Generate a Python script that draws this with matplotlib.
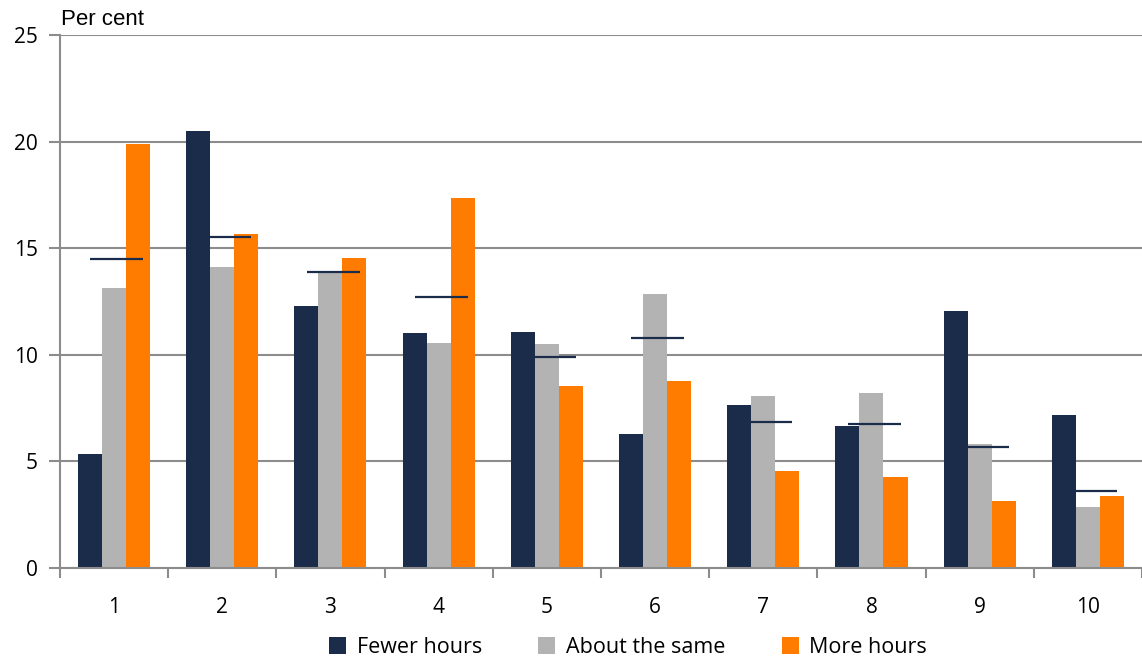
import numpy as np
import matplotlib.pyplot as plt

groups = ["1", "2", "3", "4", "5", "6", "7", "8", "9", "10"]
fewer = [5.35, 20.52, 12.29, 11.03, 11.06, 6.28, 7.63, 6.64, 12.06, 7.18]
same = [13.13, 14.14, 13.9, 10.55, 10.5, 12.83, 8.07, 8.21, 5.82, 2.88]
more = [19.89, 15.65, 14.54, 17.35, 8.55, 8.76, 4.57, 4.27, 3.14, 3.37]
average = [14.49, 15.53, 13.88, 12.7, 9.88, 10.79, 6.85, 6.76, 5.66, 3.6]

navy = "#1b2c4b"
grey = "#b3b3b3"
orange = "#ff7c00"
axis_grey = "#8c8c8c"

fig = plt.figure(figsize=(11.42, 6.61), dpi=100)
ax = fig.add_axes([0.0525, 0.1407, 0.9475, 0.8063])

x = np.arange(1, len(groups) + 1)
w = 0.222
ax.bar(x - w, fewer, w, color=navy, label="Fewer hours", zorder=2)
ax.bar(x, same, w, color=grey, label="About the same", zorder=2)
ax.bar(x + w, more, w, color=orange, label="More hours", zorder=2)
ax.hlines(average, x - 0.22, x + 0.27, color=navy, lw=1.6, zorder=3)

ax.set_xlim(0.5, len(groups) + 0.5)
ax.set_ylim(0, 25)
ax.set_yticks([0, 5, 10, 15, 20, 25])
ax.set_xticks(x)
ax.set_xticklabels(groups)
ax.set_xticks(np.arange(0.5, len(groups) + 1), minor=True)
ax.tick_params(axis="x", which="major", length=0, pad=21)
ax.tick_params(axis="x", which="minor", length=7, width=1.5, color=axis_grey)
ax.tick_params(axis="y", length=8, width=1.5, color=axis_grey, pad=8)
for lab in ax.get_xticklabels() + ax.get_yticklabels():
    lab.set_fontfamily("Open Sans")
    lab.set_fontsize(15)

ax.grid(axis="y", color=axis_grey, lw=1.5, zorder=0)
for s in ["top", "right"]:
    ax.spines[s].set_visible(False)
for s in ["left", "bottom"]:
    ax.spines[s].set_color(axis_grey)
    ax.spines[s].set_linewidth(1.5)

fig.text(0.053, 0.962, "Per cent", fontsize=16, family="Liberation Sans", ha="left")

fig.legend(loc="lower center", bbox_to_anchor=(0.55, -0.025), ncol=3, frameon=False,
           prop={"family": "Open Sans", "size": 15.5}, handlelength=0.8, handleheight=0.8,
           columnspacing=2.6, handletextpad=0.5)

fig.savefig("out.png", dpi=100)
